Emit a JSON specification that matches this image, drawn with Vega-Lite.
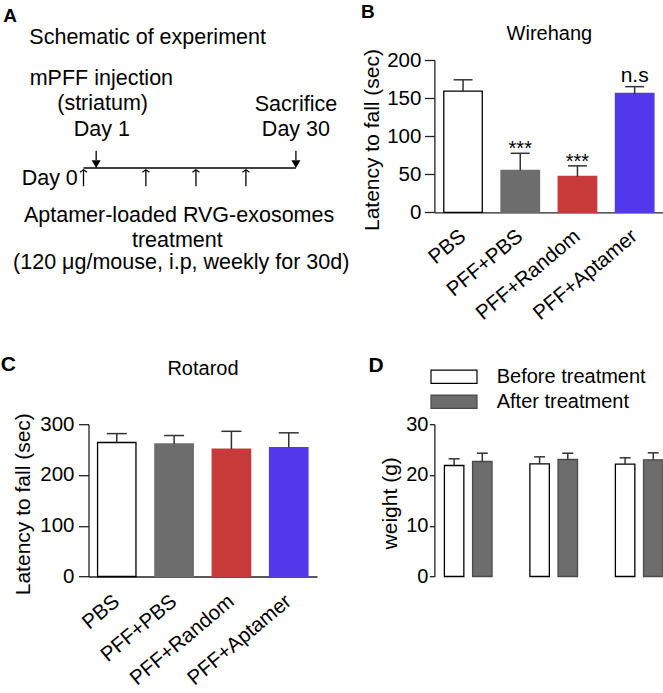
{
  "$schema": "https://vega.github.io/schema/vega-lite/v6.json",
  "padding": {"left": 0.5, "top": 3, "right": 0, "bottom": 0},
  "autosize": {"type": "pad"},
  "columns": 2,
  "bounds": "flush",
  "align": {"row": "all", "column": "none"},
  "spacing": {"row": 211.2, "column": 108.9},
  "resolve": {"scale": {"fill": "independent", "stroke": "independent"}, "legend": {"fill": "independent", "stroke": "independent"}},
  "config": {
    "font": "Liberation Sans",
    "view": {"stroke": null},
    "axis": {"grid": false, "domainColor": "#222", "domainWidth": 1.3, "tickColor": "#222", "tickWidth": 1.3, "labelColor": "#000", "titleColor": "#000", "labelFont": "Liberation Sans", "titleFont": "Liberation Sans", "titleFontWeight": "normal", "labelFontSize": 20.5, "titleFontSize": 21, "labelOverlap": false},
    "title": {"font": "Liberation Sans", "fontWeight": "bold", "anchor": "start", "frame": "group", "color": "#000"},
    "text": {"font": "Liberation Sans", "color": "#000"}
  },
  "concat": [
    {
      "width": 236.1,
      "height": 152.3,
      "title": {"text": "A", "fontSize": 19, "dx": -85.3, "dy": 3},
      "encoding": {
        "x": {"field": "day", "type": "quantitative", "scale": {"domain": [0.706, 34.05], "zero": false, "nice": false}, "axis": null},
        "y": {"field": "vpos", "type": "quantitative", "scale": {"domain": [61, 213.3], "zero": false, "nice": false, "reverse": true}, "axis": null}
      },
      "layer": [
        {
          "data": {"values": [
            {"label": "Schematic of experiment", "day": -7.65, "vpos": 45},
            {"label": "mPFF injection", "day": -7.6, "vpos": 85.7}
          ]},
          "mark": {"type": "text", "align": "left", "baseline": "alphabetic", "fontSize": 21.5},
          "encoding": {"text": {"field": "label"}}
        },
        {
          "data": {"values": [
            {"label": "(striatum)", "day": 2.7, "vpos": 111.3},
            {"label": "Day 1", "day": 2.6, "vpos": 137},
            {"label": "Sacrifice", "day": 30, "vpos": 111.7},
            {"label": "Day 30", "day": 30, "vpos": 136.5},
            {"label": "Aptamer-loaded RVG-exosomes", "day": 13.5, "vpos": 222.7},
            {"label": "treatment", "day": 13.25, "vpos": 248},
            {"label": "(120 μg/mouse, i.p, weekly for 30d)", "day": 13.8, "vpos": 270}
          ]},
          "mark": {"type": "text", "align": "center", "baseline": "alphabetic", "fontSize": 21.5},
          "encoding": {"text": {"field": "label"}}
        },
        {
          "data": {"values": [
            {"label": "Day 0", "day": -0.8, "vpos": 185.5}
          ]},
          "mark": {"type": "text", "align": "right", "baseline": "alphabetic", "fontSize": 21.5},
          "encoding": {"text": {"field": "label"}}
        },
        {
          "data": {"values": [{"day": 0, "day_end": 30, "vpos": 169}]},
          "mark": {"type": "rule", "color": "#000", "strokeWidth": 1.5},
          "encoding": {"x2": {"field": "day_end"}}
        },
        {
          "data": {"values": [
            {"day": 1.79, "vpos": 151.7, "vpos_end": 161},
            {"day": 30, "vpos": 151.7, "vpos_end": 161},
            {"day": 0, "vpos": 187.3, "vpos_end": 171},
            {"day": 8.81, "vpos": 187.3, "vpos_end": 171},
            {"day": 15.88, "vpos": 187.3, "vpos_end": 171},
            {"day": 22.94, "vpos": 187.3, "vpos_end": 171}
          ]},
          "mark": {"type": "rule", "color": "#000", "strokeWidth": 1.3},
          "encoding": {"y2": {"field": "vpos_end"}}
        },
        {
          "data": {"values": [
            {"day": 1.79, "vpos": 165.1},
            {"day": 30, "vpos": 165.1}
          ]},
          "mark": {"type": "point", "shape": "triangle-down", "filled": true, "color": "#000", "size": 81, "opacity": 1}
        },
        {
          "data": {"values": [
            {"day": 0, "vpos": 170.7},
            {"day": 8.81, "vpos": 170.7},
            {"day": 15.88, "vpos": 170.7},
            {"day": 22.94, "vpos": 170.7}
          ]},
          "mark": {"type": "point", "shape": "M-1,0.75L0,0L1,0.75", "filled": false, "color": "#000", "strokeWidth": 1.2, "size": 49, "opacity": 1}
        }
      ]
    },
    {
      "width": 228.9,
      "height": 152.3,
      "title": {"text": "B", "fontSize": 19, "dx": -73.3, "dy": 3},
      "data": {"values": [
        {"group": "PBS", "mean": 159, "upper": 174, "sig": ""},
        {"group": "PFF+PBS", "mean": 55, "upper": 77.5, "sig": "***"},
        {"group": "PFF+Random", "mean": 47, "upper": 61, "sig": "***"},
        {"group": "PFF+Aptamer", "mean": 156, "upper": 165, "sig": "n.s"}
      ]},
      "layer": [
        {
          "mark": {"type": "bar", "strokeWidth": 1.3},
          "encoding": {
            "x": {"field": "group", "type": "nominal", "scale": {"domain": ["PBS", "PFF+PBS", "PFF+Random", "PFF+Aptamer"], "paddingInner": 0.327, "paddingOuter": 0.164},
              "axis": {"orient": "bottom", "title": null, "ticks": false, "tickSize": 0, "labelAngle": -40, "labelAlign": "right", "labelBaseline": "middle", "labelPadding": 21, "labelOverlap": false, "labelLimit": 300}},
            "y": {"field": "mean", "type": "quantitative", "scale": {"domain": [0, 200], "nice": false},
              "axis": {"values": [0, 50, 100, 150, 200], "labelOverlap": false, "tickSize": 10, "labelPadding": 3.5, "title": "Latency to fall (sec)", "titleX": -52, "titleY": 79.5, "titleBaseline": "bottom", "titleAlign": "center"}},
            "fill": {"field": "group", "type": "nominal", "scale": {"domain": ["PBS", "PFF+PBS", "PFF+Random", "PFF+Aptamer"], "range": ["#ffffff", "#6d6d6d", "#c83a3a", "#5238eb"]}, "legend": null},
            "stroke": {"field": "group", "type": "nominal", "scale": {"domain": ["PBS", "PFF+PBS", "PFF+Random", "PFF+Aptamer"], "range": ["#000000", "#6d6d6d", "#c83a3a", "#5238eb"]}, "legend": null}
          }
        },
        {
          "mark": {"type": "rule", "color": "#333", "strokeWidth": 1.5},
          "encoding": {
            "x": {"field": "group", "type": "nominal", "axis": null},
            "y": {"field": "mean", "type": "quantitative",
              "axis": {"values": [0, 50, 100, 150, 200], "labelOverlap": false, "tickSize": 10, "labelPadding": 3.5, "title": "Latency to fall (sec)", "titleX": -52, "titleY": 79.5, "titleBaseline": "bottom", "titleAlign": "center"}},
            "y2": {"field": "upper"}
          }
        },
        {
          "mark": {"type": "tick", "color": "#333", "thickness": 1.5, "size": 19, "opacity": 1},
          "encoding": {
            "x": {"field": "group", "type": "nominal",
              "axis": {"orient": "top", "labels": false, "ticks": false, "domain": false, "title": "Wirehang", "titleFontSize": 20, "titleX": 114.5, "titleY": -21, "titleBaseline": "alphabetic", "titleAlign": "center"}},
            "y": {"field": "upper", "type": "quantitative",
              "axis": {"values": [0, 50, 100, 150, 200], "labelOverlap": false, "tickSize": 10, "labelPadding": 3.5, "title": "Latency to fall (sec)", "titleX": -52, "titleY": 79.5, "titleBaseline": "bottom", "titleAlign": "center"}}
          }
        },
        {
          "transform": [{"filter": "datum.sig == '***'"}],
          "mark": {"type": "text", "fontSize": 20, "baseline": "alphabetic", "dy": 2},
          "encoding": {
            "x": {"field": "group", "type": "nominal", "axis": null},
            "y": {"field": "upper", "type": "quantitative",
              "axis": {"values": [0, 50, 100, 150, 200], "labelOverlap": false, "tickSize": 10, "labelPadding": 3.5, "title": "Latency to fall (sec)", "titleX": -52, "titleY": 79.5, "titleBaseline": "bottom", "titleAlign": "center"}},
            "text": {"field": "sig"}
          }
        },
        {
          "transform": [{"filter": "datum.sig == 'n.s'"}],
          "mark": {"type": "text", "fontSize": 21, "baseline": "alphabetic", "dy": -4.4},
          "encoding": {
            "x": {"field": "group", "type": "nominal", "axis": null},
            "y": {"field": "upper", "type": "quantitative",
              "axis": {"values": [0, 50, 100, 150, 200], "labelOverlap": false, "tickSize": 10, "labelPadding": 3.5, "title": "Latency to fall (sec)", "titleX": -52, "titleY": 79.5, "titleBaseline": "bottom", "titleAlign": "center"}},
            "text": {"field": "sig"}
          }
        }
      ],
      "resolve": {"axis": {"x": "independent"}}
    },
    {
      "width": 228.5,
      "height": 152.3,
      "title": {"text": "C", "fontSize": 21, "dx": -87.8, "dy": 21},
      "data": {"values": [
        {"group": "PBS", "mean": 264, "upper": 281.5},
        {"group": "PFF+PBS", "mean": 261, "upper": 277.7},
        {"group": "PFF+Random", "mean": 251, "upper": 286},
        {"group": "PFF+Aptamer", "mean": 254, "upper": 283}
      ]},
      "layer": [
        {
          "mark": {"type": "bar", "strokeWidth": 1.3},
          "encoding": {
            "x": {"field": "group", "type": "nominal", "scale": {"domain": ["PBS", "PFF+PBS", "PFF+Random", "PFF+Aptamer"], "paddingInner": 0.33, "paddingOuter": 0.158},
              "axis": {"orient": "bottom", "title": null, "ticks": false, "tickSize": 0, "labelAngle": -40, "labelAlign": "right", "labelBaseline": "middle", "labelPadding": 22, "labelOverlap": false, "labelLimit": 300}},
            "y": {"field": "mean", "type": "quantitative", "scale": {"domain": [0, 300], "nice": false},
              "axis": {"values": [0, 100, 200, 300], "labelOverlap": false, "tickSize": 10, "labelPadding": 4.5, "title": "Latency to fall (sec)", "titleX": -55, "titleY": 79.5, "titleBaseline": "bottom", "titleAlign": "center"}},
            "fill": {"field": "group", "type": "nominal", "scale": {"domain": ["PBS", "PFF+PBS", "PFF+Random", "PFF+Aptamer"], "range": ["#ffffff", "#6d6d6d", "#c83a3a", "#5238eb"]}, "legend": null},
            "stroke": {"field": "group", "type": "nominal", "scale": {"domain": ["PBS", "PFF+PBS", "PFF+Random", "PFF+Aptamer"], "range": ["#000000", "#6d6d6d", "#c83a3a", "#5238eb"]}, "legend": null}
          }
        },
        {
          "mark": {"type": "rule", "color": "#333", "strokeWidth": 1.5},
          "encoding": {
            "x": {"field": "group", "type": "nominal", "axis": null},
            "y": {"field": "mean", "type": "quantitative",
              "axis": {"values": [0, 100, 200, 300], "labelOverlap": false, "tickSize": 10, "labelPadding": 4.5, "title": "Latency to fall (sec)", "titleX": -55, "titleY": 79.5, "titleBaseline": "bottom", "titleAlign": "center"}},
            "y2": {"field": "upper"}
          }
        },
        {
          "mark": {"type": "tick", "color": "#333", "thickness": 1.5, "size": 20, "opacity": 1},
          "encoding": {
            "x": {"field": "group", "type": "nominal",
              "axis": {"orient": "top", "labels": false, "ticks": false, "domain": false, "title": "Rotarod", "titleFontSize": 20, "titleX": 114, "titleY": -50.2, "titleBaseline": "alphabetic", "titleAlign": "center"}},
            "y": {"field": "upper", "type": "quantitative",
              "axis": {"values": [0, 100, 200, 300], "labelOverlap": false, "tickSize": 10, "labelPadding": 4.5, "title": "Latency to fall (sec)", "titleX": -55, "titleY": 79.5, "titleBaseline": "bottom", "titleAlign": "center"}}
          }
        }
      ],
      "resolve": {"axis": {"x": "independent"}}
    },
    {
      "width": 238.6,
      "height": 152.3,
      "title": {"text": "D", "fontSize": 21, "dx": -66, "dy": 13.5},
      "data": {"values": [
        {"group": "PFF", "period": "Before treatment", "mean": 21.86, "upper": 23.18},
        {"group": "PFF", "period": "After treatment", "mean": 22.65, "upper": 24.29},
        {"group": "PFF+aptamer", "period": "Before treatment", "mean": 22.19, "upper": 23.57},
        {"group": "PFF+aptamer", "period": "After treatment", "mean": 23.05, "upper": 24.29},
        {"group": "PFF+random", "period": "Before treatment", "mean": 22.13, "upper": 23.38},
        {"group": "PFF+random", "period": "After treatment", "mean": 22.98, "upper": 24.36}
      ]},
      "layer": [
        {
          "mark": {"type": "bar", "strokeWidth": 1.3},
          "encoding": {
            "x": {"field": "group", "type": "nominal", "scale": {"domain": ["PFF", "PFF+aptamer", "PFF+random"], "paddingInner": 0.443, "paddingOuter": 0.117},
              "axis": {"orient": "bottom", "title": null, "ticks": false, "tickSize": 0, "labelAngle": -40, "labelAlign": "right", "labelBaseline": "middle", "labelPadding": 15, "labelOverlap": false, "labelLimit": 300}},
            "xOffset": {"field": "period", "type": "nominal", "scale": {"domain": ["Before treatment", "After treatment"], "paddingInner": 0.309, "paddingOuter": 0}},
            "y": {"field": "mean", "type": "quantitative", "scale": {"domain": [0, 30], "nice": false},
              "axis": {"values": [0, 10, 20, 30], "labelOverlap": false, "tickSize": 5, "labelPadding": 1.5, "labelFontSize": 20, "title": "weight (g)", "titleX": -34, "titleY": 78.6, "titleBaseline": "bottom", "titleAlign": "center"}},
            "fill": {"field": "period", "type": "nominal", "scale": {"domain": ["Before treatment", "After treatment"], "range": ["#ffffff", "#6d6d6d"]},
              "legend": {"orient": "none", "legendX": 9.6, "legendY": -57.5, "title": null, "symbolType": "M-4.6,-1.33H4.6V1.33H-4.6Z", "symbolSize": 100, "symbolStrokeWidth": 1.2, "labelFontSize": 20, "labelOffset": 32.7, "rowPadding": 5, "padding": 0, "labelColor": "#000", "labelFont": "Liberation Sans"}},
            "stroke": {"field": "period", "type": "nominal", "scale": {"domain": ["Before treatment", "After treatment"], "range": ["#000000", "#4a4a4a"]},
              "legend": {"orient": "none", "legendX": 9.6, "legendY": -57.5, "title": null, "symbolType": "M-4.6,-1.33H4.6V1.33H-4.6Z", "symbolSize": 100, "symbolStrokeWidth": 1.2, "labelFontSize": 20, "labelOffset": 32.7, "rowPadding": 5, "padding": 0, "labelColor": "#000", "labelFont": "Liberation Sans"}}
          }
        },
        {
          "mark": {"type": "rule", "color": "#333", "strokeWidth": 1.5},
          "encoding": {
            "x": {"field": "group", "type": "nominal", "axis": null},
            "xOffset": {"field": "period", "type": "nominal"},
            "y": {"field": "mean", "type": "quantitative",
              "axis": {"values": [0, 10, 20, 30], "labelOverlap": false, "tickSize": 5, "labelPadding": 1.5, "labelFontSize": 20, "title": "weight (g)", "titleX": -34, "titleY": 78.6, "titleBaseline": "bottom", "titleAlign": "center"}},
            "y2": {"field": "upper"}
          }
        },
        {
          "mark": {"type": "tick", "color": "#333", "thickness": 1.5, "size": 11, "opacity": 1},
          "encoding": {
            "x": {"field": "group", "type": "nominal", "axis": null},
            "xOffset": {"field": "period", "type": "nominal"},
            "y": {"field": "upper", "type": "quantitative",
              "axis": {"values": [0, 10, 20, 30], "labelOverlap": false, "tickSize": 5, "labelPadding": 1.5, "labelFontSize": 20, "title": "weight (g)", "titleX": -34, "titleY": 78.6, "titleBaseline": "bottom", "titleAlign": "center"}}
          }
        }
      ]
    }
  ]
}
